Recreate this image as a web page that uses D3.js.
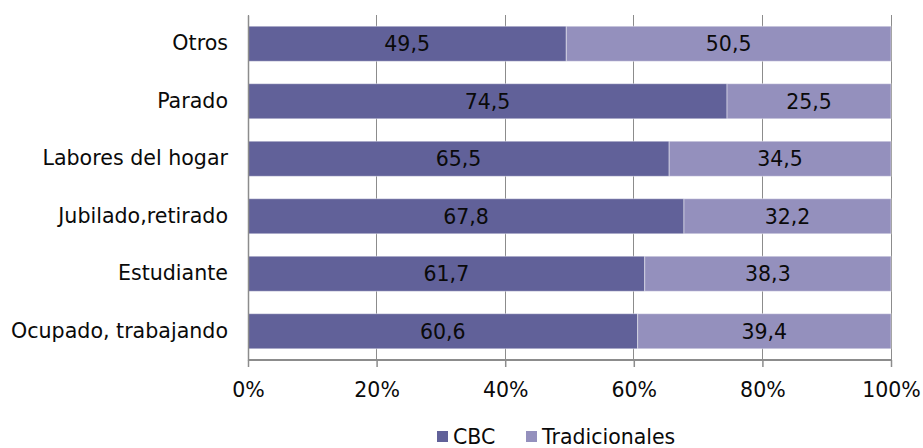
<!DOCTYPE html>
<html>
<head>
<meta charset="utf-8">
<script src="https://cdn.jsdelivr.net/npm/d3@7"></script>
<style>
  html, body { margin: 0; padding: 0; background: #fff; }
  svg { display: block; font-family: "DejaVu Sans", Verdana, sans-serif; }
</style>
</head>
<body>
<svg id="chart" width="923" height="448"></svg>
<script>
const categories = ["Otros", "Parado", "Labores del hogar", "Jubilado,retirado", "Estudiante", "Ocupado, trabajando"];
const seriesNames = ["CBC", "Tradicionales"];
const cbcValues = [49.5, 74.5, 65.5, 67.8, 61.7, 60.6];
const tradValues = [50.5, 25.5, 34.5, 32.2, 38.3, 39.4];
const tickValues = [0, 0.2, 0.4, 0.6, 0.8, 1.0];
const tickLabels = ["0%", "20%", "40%", "60%", "80%", "100%"];
const colors = ["#616199", "#9490bd"];

const svg = d3.select("#chart");
const margin = { left: 248, right: 32, top: 15, bottom: 88 };
const W = 923, H = 448;
const x = d3.scaleLinear().domain([0, 1]).range([margin.left, W - margin.right]);
const y = d3.scaleBand().domain(categories).range([margin.top, H - margin.bottom])
  .paddingInner(0.39).paddingOuter(0.195);

const rows = categories.map((c, i) => ({ cat: c, vals: [cbcValues[i], tradValues[i]] }));
const stackData = rows.map(r => {
  const total = r.vals[0] + r.vals[1];
  let acc = 0;
  return r.vals.map((v, k) => {
    const s = { cat: r.cat, k, v, x0: acc / total, x1: (acc + v) / total };
    acc += v;
    return s;
  });
}).flat();

// gridlines
svg.append("g").selectAll("line").data(tickValues).join("line")
  .attr("x1", d => x(d)).attr("x2", d => x(d))
  .attr("y1", margin.top).attr("y2", H - margin.bottom)
  .attr("stroke", "#8c8c8c").attr("stroke-width", 1)
  .attr("shape-rendering", "crispEdges");

// bars
svg.append("g").selectAll("rect").data(stackData).join("rect")
  .attr("x", d => x(d.x0))
  .attr("width", d => x(d.x1) - x(d.x0))
  .attr("y", d => y(d.cat))
  .attr("height", y.bandwidth())
  .attr("fill", d => colors[d.k])
  .attr("stroke", "#ffffff").attr("stroke-opacity", 0.45).attr("stroke-width", 1);

// value labels
svg.append("g").selectAll("text").data(stackData).join("text")
  .attr("x", d => (x(d.x0) + x(d.x1)) / 2)
  .attr("y", d => y(d.cat) + y.bandwidth() / 2)
  .attr("dy", "0.36em")
  .attr("text-anchor", "middle")
  .attr("font-size", 20.5)
  .attr("fill", "#0a0a0a")
  .text(d => d.v.toFixed(1).replace(".", ","));

// x axis
const xAxis = d3.axisBottom(x).tickValues(tickValues)
  .tickFormat((d, i) => tickLabels[i]).tickSize(7).tickPadding(15);
const gx = svg.append("g").attr("transform", `translate(0,${H - margin.bottom})`).call(xAxis);
gx.select(".domain").attr("stroke", "#8c8c8c").attr("stroke-width", 2).attr("d", `M${x(0)},0H${x(1)}`);
gx.selectAll(".tick line").attr("stroke", "#8c8c8c").attr("stroke-width", 1.5);
gx.selectAll(".tick text").attr("font-size", 20.5).attr("fill", "#0a0a0a")
  .attr("font-family", "DejaVu Sans, Verdana, sans-serif");

// y axis
const yAxis = d3.axisLeft(y).tickSize(0).tickPadding(20);
const gy = svg.append("g").attr("transform", `translate(${margin.left},0)`).call(yAxis);
gy.select(".domain").attr("stroke", "#8c8c8c").attr("stroke-width", 1.5);
gy.selectAll(".tick text").attr("font-size", 20.6).attr("fill", "#0a0a0a")
  .attr("font-family", "DejaVu Sans, Verdana, sans-serif");

// legend
const legendX = [437, 526];
const legend = svg.append("g").selectAll("g").data(seriesNames).join("g")
  .attr("transform", (d, i) => `translate(${legendX[i]},437)`);
legend.append("rect").attr("x", 0).attr("y", -6).attr("width", 11).attr("height", 11)
  .attr("fill", (d, i) => colors[i]);
legend.append("text").attr("x", 16).attr("y", 0).attr("dy", "0.36em")
  .attr("font-size", 20.5).attr("fill", "#0a0a0a").text(d => d);
</script>
</body>
</html>
